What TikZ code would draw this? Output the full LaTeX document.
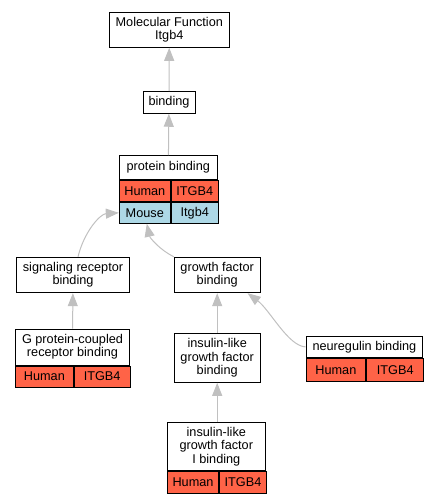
\documentclass[tikz,border=0pt]{standalone}
\usepackage{fontspec}
\setmainfont{Liberation Sans}
\usetikzlibrary{arrows.meta}
\definecolor{humanred}{HTML}{FF6347}
\definecolor{mouseblue}{HTML}{ADD8E6}
\definecolor{edgegray}{HTML}{C0C0C0}

\begin{document}
\begin{tikzpicture}[x=1bp, y=-1bp,
        font=\fontsize{12.7bp}{13.3bp}\selectfont,
        term/.style={draw, fill=white, line width=1bp, inner sep=0pt, align=center},
        human/.style={term, fill=humanred, anchor=north west, minimum height=21bp},
        mouse/.style={term, fill=mouseblue, anchor=north west, minimum height=21bp},
        isa/.style={draw=edgegray, line width=1bp, -{Triangle[length=13bp, width=10bp, fill=edgegray]}}]
    \useasboundingbox (0,0) rectangle (437,504);

    \node[term, minimum width=120bp, minimum height=35bp] (mf) at (169.3,29.8) {Molecular Function\\Itgb4};
    \node[term, minimum width=52bp, minimum height=21.5bp] (bind) at (169,102.5) {binding};

    \node[term, minimum width=98bp, minimum height=23.6bp] (pb) at (168.3,167.5) {protein binding};
    \node[human, minimum width=51bp] (pbhuman) at (pb.south west) {Human};
    \node[human, minimum width=47bp] (pbgene) at (pbhuman.north east) {ITGB4};
    \node[mouse, minimum width=51bp] (pbmouse) at (pbhuman.south west) {Mouse};
    \node[mouse, minimum width=47bp] (pbmgene) at (pbmouse.north east) {Itgb4};

    \node[term, minimum width=112.6bp, minimum height=35.4bp] (sig) at (73,275) {signaling receptor\\binding};
    \node[term, minimum width=85.7bp, minimum height=35.4bp] (gf) at (217.2,275) {growth factor\\binding};

    \node[term, minimum width=113.6bp, minimum height=36bp] (gp) at (72.5,347) {G protein-coupled\\receptor binding};
    \node[human, minimum width=57.3bp] (gphuman) at (gp.south west) {Human};
    \node[human, minimum width=56.3bp] (gpgene) at (gphuman.north east) {ITGB4};

    \node[term, minimum width=85.7bp, minimum height=49bp] (ins) at (217.2,357.8) {insulin-like\\growth factor\\binding};

    \node[term, minimum width=116.7bp, minimum height=21.7bp] (neu) at (364.4,346.9) {neuregulin binding};
    \node[human, minimum width=59.7bp, minimum height=22.3bp] (neuhuman) at (neu.south west) {Human};
    \node[human, minimum width=57bp, minimum height=22.3bp] (neugene) at (neuhuman.north east) {ITGB4};

    \node[term, minimum width=98bp, minimum height=48bp] (igf) at (216.3,446.7) {insulin-like\\growth factor\\I binding};
    \node[human, minimum width=51.4bp, minimum height=21.6bp] (igfhuman) at (igf.south west) {Human};
    \node[human, minimum width=46.6bp, minimum height=21.6bp] (igfgene) at (igfhuman.north east) {ITGB4};

    \draw[isa] (bind) -- (mf);
    \draw[isa] (pb) -- (bind);
    \draw[isa] ([xshift=5bp]sig.north) .. controls (84,232) and (100,214) .. (pbmouse.west);
    \draw[isa] (gf.north west) .. controls (160,250) and (150,238) .. ([xshift=2bp]pbmouse.south);
    \draw[isa] (gp) -- (sig);
    \draw[isa] (ins) -- (gf);
    \draw[isa] (neu.west) .. controls (288,346) and (270,310) .. ([xshift=-13bp]gf.south east);
    \draw[isa] (igf.north -| ins.south) -- (ins.south);
\end{tikzpicture}
\end{document}
